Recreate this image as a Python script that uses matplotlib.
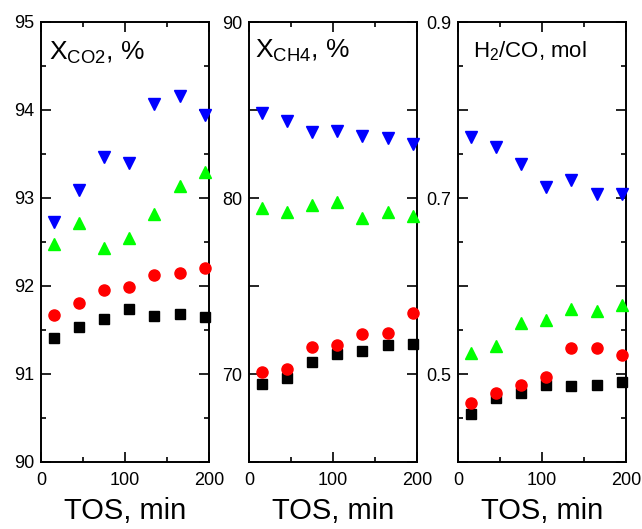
import numpy as np
import matplotlib
matplotlib.use('Agg')
import matplotlib.pyplot as plt

plt.rcParams['font.family'] = ['Liberation Sans', 'DejaVu Sans']
plt.rcParams['mathtext.fontset'] = 'custom'
plt.rcParams['mathtext.rm'] = 'Liberation Sans'
plt.rcParams['mathtext.it'] = 'Liberation Sans:italic'

tos = [15, 45, 75, 105, 135, 165, 195]

# X_CO2, %
co2_black = [91.41, 91.53, 91.62, 91.74, 91.66, 91.68, 91.65]
co2_red = [91.67, 91.81, 91.95, 91.99, 92.13, 92.15, 92.20]
co2_green = [92.48, 92.72, 92.43, 92.55, 92.82, 93.14, 93.29]
co2_blue = [92.73, 93.09, 93.47, 93.40, 94.07, 94.16, 93.94]

# X_CH4, %
ch4_black = [69.41, 69.79, 70.70, 71.14, 71.33, 71.63, 71.69]
ch4_red = [70.14, 70.28, 71.52, 71.67, 72.26, 72.31, 73.47]
ch4_green = [79.43, 79.20, 79.60, 79.80, 78.85, 79.20, 78.95]
ch4_blue = [84.83, 84.38, 83.75, 83.81, 83.52, 83.41, 83.07]

# H2/CO, mol
h2co_black = [0.455, 0.473, 0.478, 0.487, 0.486, 0.488, 0.491]
h2co_red = [0.467, 0.478, 0.488, 0.497, 0.530, 0.530, 0.522]
h2co_green = [0.524, 0.532, 0.558, 0.561, 0.574, 0.572, 0.578]
h2co_blue = [0.769, 0.758, 0.739, 0.713, 0.721, 0.705, 0.705]

panels = [
    dict(series=[co2_black, co2_red, co2_green, co2_blue], ylim=(90, 95),
         major=np.arange(90, 95.1, 1), minor=np.arange(90.5, 95, 1),
         labels=['90', '91', '92', '93', '94', '95'],
         title=r'X$_{\mathrm{CO2}}$, %', tx=0.05, ty=0.914, tsize=19),
    dict(series=[ch4_black, ch4_red, ch4_green, ch4_blue], ylim=(65, 90),
         major=[65, 70, 75, 80, 85, 90], minor=[],
         labels=['', '70', '', '80', '', '90'],
         title=r'X$_{\mathrm{CH4}}$, %', tx=0.035, ty=0.918, tsize=19),
    dict(series=[h2co_black, h2co_red, h2co_green, h2co_blue], ylim=(0.4, 0.9),
         major=[0.4, 0.5, 0.6, 0.7, 0.8, 0.9], minor=[0.45, 0.55, 0.65, 0.75, 0.85],
         labels=['', '0.5', '', '0.7', '', '0.9'],
         title=r'H$_{\mathrm{2}}$/CO, mol', tx=0.087, ty=0.92, tsize=16),
]

styles = [('s', 'black', 7), ('o', 'red', 8), ('^', '#00ff00', 8.5), ('v', 'blue', 8.5)]

fig = plt.figure(figsize=(6.42, 5.29), dpi=100)
lefts = [41, 249, 458]

for left, p in zip(lefts, panels):
    ax = fig.add_axes([left / 642, 67 / 529, 168 / 642, 440 / 529])
    for vals, (m, c, ms) in zip(p['series'], styles):
        ax.plot(tos, vals, linestyle='none', marker=m, color=c, ms=ms, clip_on=False, zorder=3)
    ax.set_xlim(0, 200)
    ax.set_ylim(*p['ylim'])
    ax.set_xticks([0, 100, 200])
    ax.set_xticks([50, 150], minor=True)
    ax.set_yticks(p['major'])
    ax.set_yticklabels(p['labels'])
    ax.set_yticks(p['minor'], minor=True)
    ax.tick_params(which='both', direction='in', top=True, right=True, width=1.2, labelsize=13, pad=5)
    ax.tick_params(axis='x', pad=7)
    ax.tick_params(which='major', length=7)
    ax.tick_params(which='minor', length=3.5)
    for s in ax.spines.values():
        s.set_linewidth(1.4)
    ax.set_xlabel('TOS, min', fontsize=21, labelpad=6)
    ax.text(p['tx'], p['ty'], p['title'], transform=ax.transAxes, fontsize=p['tsize'],
            ha='left', va='baseline')

fig.savefig('out.png', dpi=100)
